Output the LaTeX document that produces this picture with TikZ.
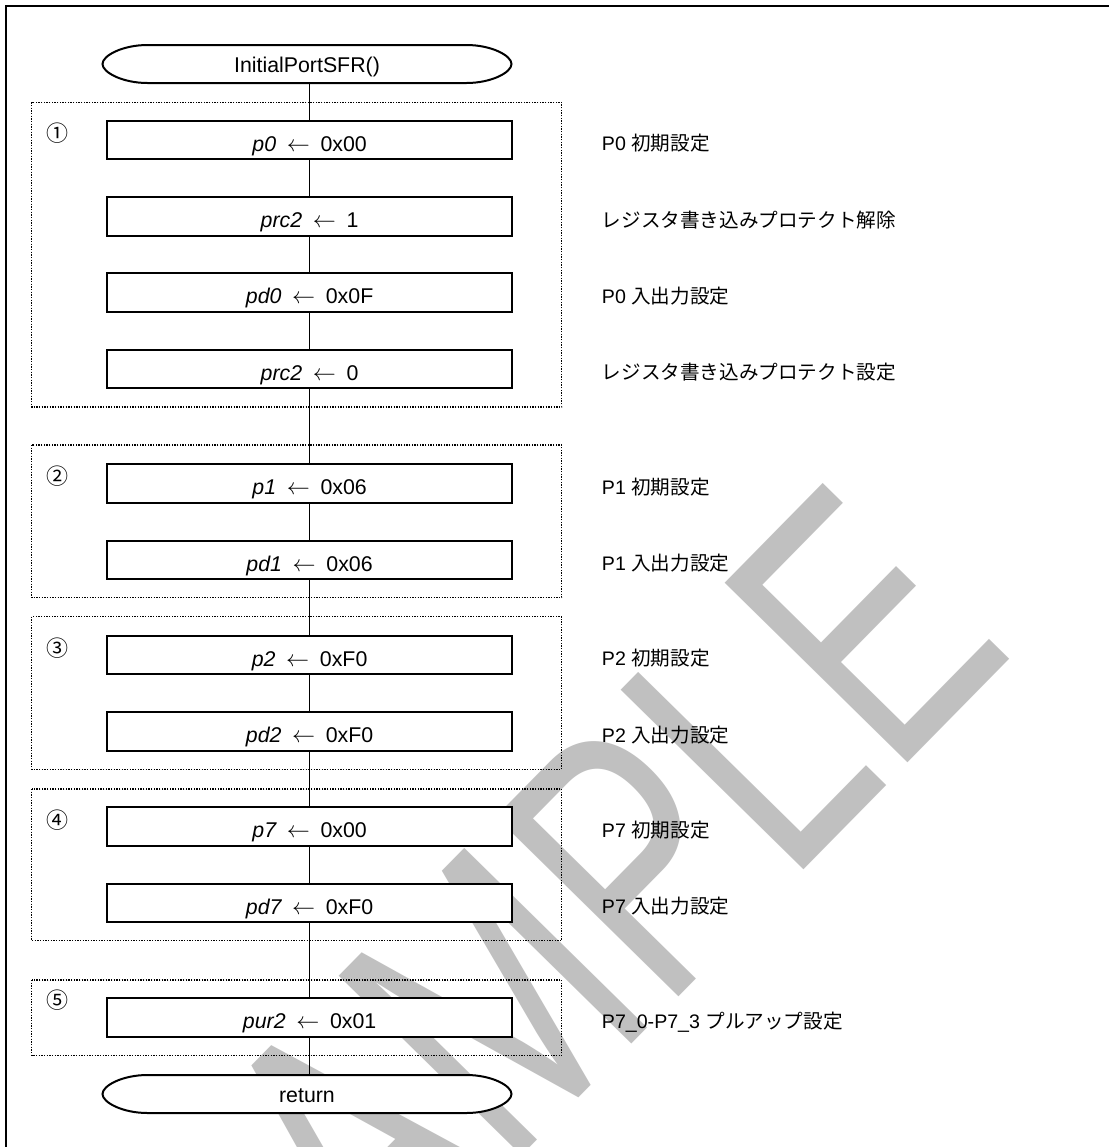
\documentclass[tikz,border=0pt]{standalone}
\usepackage{graphicx}
\usepackage{fontspec}
\setmainfont{Liberation Sans}
\newfontfamily\jp{Noto Sans CJK JP}
\usetikzlibrary{calc}
\definecolor{wm}{RGB}{192,192,192}
\tikzset{
  procbox/.style={draw=black, line width=1.5pt, fill=white, minimum width=303.2pt,
    minimum height=28.8pt, inner sep=0pt, text height=16.8pt, text depth=0pt,
    font=\fontsize{16}{18}\selectfont},
  termnode/.style={minimum width=306.75pt, minimum height=28.5pt, inner sep=0pt,
    text height=13.2pt, text depth=0pt, font=\fontsize{16}{18}\selectfont},
  flow/.style={line width=1.2pt},
  grp/.style={line width=1pt, dash pattern=on 1pt off 1pt},
  lbl/.style={anchor=base west, inner sep=0pt, font=\fontsize{14.7}{16}\selectfont},
  num/.style={inner sep=0pt, font=\fontsize{16.5}{18}\selectfont\jp},
}
\newcommand{\termoutline}[1]{%
  \draw[line width=1.5pt, fill=white] ($(#1)+(-159.5,-19)$) -- ($(#1)+(159.5,-19)$)
   .. controls ($(#1)+(184.3,-19)$) and ($(#1)+(204.5,-8.5)$) .. ($(#1)+(204.5,0)$)
   .. controls ($(#1)+(204.5,8.5)$) and ($(#1)+(184.3,19)$) .. ($(#1)+(159.5,19)$)
   -- ($(#1)+(-159.5,19)$)
   .. controls ($(#1)+(-184.3,19)$) and ($(#1)+(-204.5,8.5)$) .. ($(#1)+(-204.5,0)$)
   .. controls ($(#1)+(-204.5,-8.5)$) and ($(#1)+(-184.3,-19)$) .. cycle;}
\newcommand{\arrtxt}[2]{{\itshape #1}\hspace{0.5em}$\leftarrow$\hspace{0.5em}#2}
\begin{document}
\begin{tikzpicture}[x=0.75pt,y=-0.75pt]
\useasboundingbox (0,0) rectangle (1109,1147);
\clip (0,0) rectangle (1109,1147);
\fill[white] (0,0) rectangle (1109,1147);
% watermark
\node[rotate=45.5, anchor=base west, inner sep=0pt, text=wm,
  font=\fontsize{201}{201}\selectfont] (wmk) at (256,1427) {\scalebox{1}[1.39]{SAMPLE}};
% outer frame
\draw[line width=1.5pt] (6,1170) -- (6,6) -- (1130,6);
% groups
\draw[grp] (31.7,102.3) rectangle (561.7,407);
\draw[grp] (31.7,445) rectangle (561.7,597.7);
\draw[grp] (31.7,616.7) rectangle (561.7,769.3);
\draw[grp] (31.7,789) rectangle (561.7,940.7);
\draw[grp] (31.7,980) rectangle (561.7,1055.7);
% group numbers
\node[num] (n1) at (57.5,133.3) {①};
\node[num] (n2) at (57.5,476) {②};
\node[num] (n3) at (57.5,648) {③};
\node[num] (n4) at (57.5,820) {④};
\node[num] (n5) at (57.5,1000) {⑤};
% terminators
\coordinate (startc) at (307,64);
\termoutline{startc}
\node[termnode] (start) at (startc) {InitialPortSFR()};
\coordinate (retc) at (307,1094);
\termoutline{retc}
\node[termnode] (ret) at (retc) {return};
% process boxes
\node[procbox] (b1) at (309.6,140) {\arrtxt{p0}{0x00}};
\node[procbox] (b2) at (309.6,216.5) {\arrtxt{prc2}{1}};
\node[procbox] (b3) at (309.6,292.5) {\arrtxt{pd0}{0x0F}};
\node[procbox] (b4) at (309.6,369) {\arrtxt{prc2}{0}};
\node[procbox] (b5) at (309.6,483.5) {\arrtxt{p1}{0x06}};
\node[procbox] (b6) at (309.6,560) {\arrtxt{pd1}{0x06}};
\node[procbox] (b7) at (309.6,655) {\arrtxt{p2}{0xF0}};
\node[procbox] (b8) at (309.6,731.5) {\arrtxt{pd2}{0xF0}};
\node[procbox] (b9) at (309.6,826.5) {\arrtxt{p7}{0x00}};
\node[procbox] (b10) at (309.6,903) {\arrtxt{pd7}{0xF0}};
\node[procbox] (b11) at (309.6,1017.5) {\arrtxt{pur2}{0x01}};
% connectors
\draw[flow] (start.south -| b1.north) -- (b1.north);
\foreach \a/\b in {b1/b2,b2/b3,b3/b4,b4/b5,b5/b6,b6/b7,b7/b8,b8/b9,b9/b10,b10/b11}
  \draw[flow] (\a.south) -- (\b.north);
\draw[flow] (b11.south) -- (b11.south |- ret.north);
% labels
\node[lbl] (l1) at (601.7,150.7) {P0 {\jp 初期設定}};
\node[lbl] (l2) at (601.7,227.2) {\jp レジスタ書き込みプロテクト解除};
\node[lbl] (l3) at (601.7,303.2) {P0 {\jp 入出力設定}};
\node[lbl] (l4) at (601.7,379.7) {\jp レジスタ書き込みプロテクト設定};
\node[lbl] (l5) at (601.7,494.2) {P1 {\jp 初期設定}};
\node[lbl] (l6) at (601.7,570.7) {P1 {\jp 入出力設定}};
\node[lbl] (l7) at (601.7,665.7) {P2 {\jp 初期設定}};
\node[lbl] (l8) at (601.7,742.2) {P2 {\jp 入出力設定}};
\node[lbl] (l9) at (601.7,837.2) {P7 {\jp 初期設定}};
\node[lbl] (l10) at (601.7,913.7) {P7 {\jp 入出力設定}};
\node[lbl] (l11) at (601.7,1028.2) {P7\_0-P7\_3 {\jp プルアップ設定}};
\end{tikzpicture}
\end{document}
